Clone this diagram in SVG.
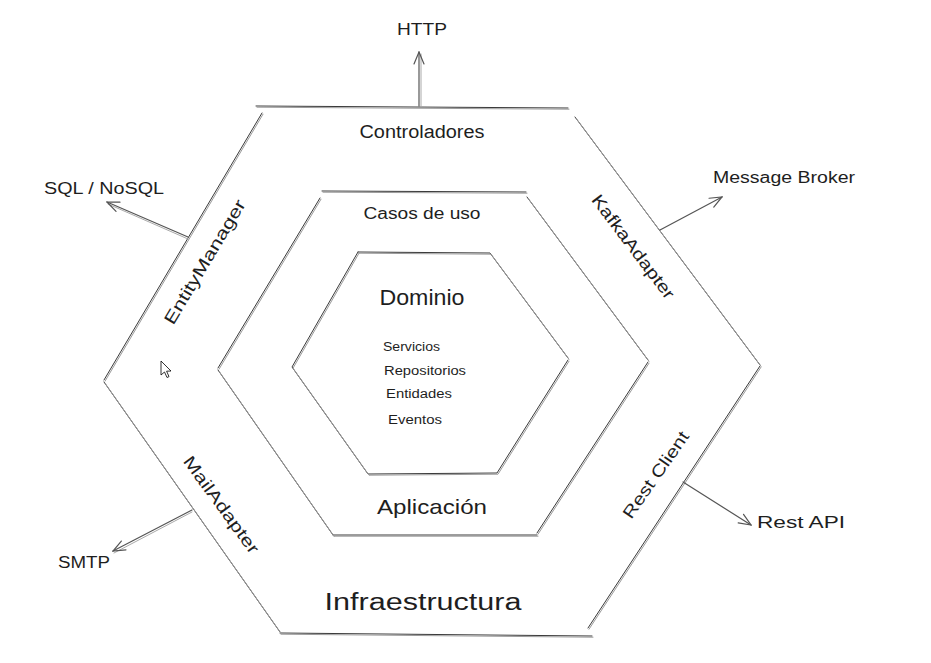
<svg xmlns="http://www.w3.org/2000/svg" width="931" height="663" viewBox="0 0 931 663">
<defs>
<style>
.e1{fill:none;stroke:#3a3a3a;stroke-width:1;stroke-linecap:round}
.e2{fill:none;stroke:#9a9a9a;stroke-width:1;stroke-linecap:round}
.t{font-family:"Liberation Sans",Arial,sans-serif;fill:#1e1e1e;text-anchor:middle;dominant-baseline:central}
.a1{fill:none;stroke:#555;stroke-width:1.2;stroke-linecap:round}
.a2{fill:none;stroke:#aaa;stroke-width:1;stroke-linecap:round}
</style>
<marker id="ah" viewBox="0 0 14 12" refX="13" refY="6" markerWidth="14" markerHeight="12" markerUnits="userSpaceOnUse" orient="auto">
<path d="M1,1 L13,6 L1,11" fill="none" stroke="#555" stroke-width="1.2" stroke-linecap="round"/>
</marker>
</defs>
<rect width="931" height="663" fill="#ffffff"/>

<g id="infraestructura">
<path class="e1" d="M256,106 L568,108 M575,117 L760,365 M760,366 L588,628 M280,633 L592,636 M104,382 L280,632 M104,380 L262,113"/>
<path class="e2" transform="translate(1,1.2)" d="M256,106 L568,108 M575,117 L760,365 M760,366 L588,628 M280,633 L592,636 M104,382 L280,632 M104,380 L262,113"/>
<text class="t" x="422" y="132" font-size="18" textLength="125" lengthAdjust="spacingAndGlyphs">Controladores</text>
<text class="t" x="423" y="602" font-size="23" textLength="197" lengthAdjust="spacingAndGlyphs">Infraestructura</text>
<text class="t" font-size="17" transform="translate(205,262) rotate(-59)" textLength="142" lengthAdjust="spacingAndGlyphs">EntityManager</text>
<text class="t" font-size="17" transform="translate(633,247) rotate(53)" textLength="126" lengthAdjust="spacingAndGlyphs">KafkaAdapter</text>
<text class="t" font-size="17" transform="translate(221,505) rotate(54)" textLength="116" lengthAdjust="spacingAndGlyphs">MailAdapter</text>
<text class="t" font-size="17" transform="translate(656,475) rotate(-55)" textLength="102" lengthAdjust="spacingAndGlyphs">Rest Client</text>
</g>

<g id="aplicacion">
<path class="e1" d="M322,191 L526,192 M527,197 L648,360 M648,362 L537,533 M333,535 L537,535 M218,370 L333,535 M218,368 L320,198"/>
<path class="e2" transform="translate(1,1.2)" d="M322,191 L526,192 M527,197 L648,360 M648,362 L537,533 M333,535 L537,535 M218,370 L333,535 M218,368 L320,198"/>
<text class="t" x="422" y="213" font-size="16" textLength="117" lengthAdjust="spacingAndGlyphs">Casos de uso</text>
<text class="t" x="432" y="506" font-size="21" textLength="110" lengthAdjust="spacingAndGlyphs">Aplicación</text>
</g>

<g id="dominio">
<path class="e1" d="M358,252 L490,253 L568,358 M568,360 L497,473 L368,474 L292,367 L358,252"/>
<path class="e2" transform="translate(1,1.2)" d="M358,252 L490,253 L568,358 M568,360 L497,473 L368,474 L292,367 L358,252"/>
<text class="t" x="422" y="297" font-size="22" textLength="85" lengthAdjust="spacingAndGlyphs">Dominio</text>
<text class="t" x="383" y="347" font-size="12" style="text-anchor:start" textLength="57" lengthAdjust="spacingAndGlyphs">Servicios</text>
<text class="t" x="384" y="371" font-size="12" style="text-anchor:start" textLength="82" lengthAdjust="spacingAndGlyphs">Repositorios</text>
<text class="t" x="386" y="394" font-size="12" style="text-anchor:start" textLength="66" lengthAdjust="spacingAndGlyphs">Entidades</text>
<text class="t" x="388" y="420" font-size="12" style="text-anchor:start" textLength="54" lengthAdjust="spacingAndGlyphs">Eventos</text>
</g>

<g id="externos">
<text class="t" x="422" y="29" font-size="16" textLength="50" lengthAdjust="spacingAndGlyphs">HTTP</text>
<text class="t" x="104" y="188" font-size="16" textLength="120" lengthAdjust="spacingAndGlyphs">SQL / NoSQL</text>
<text class="t" x="784" y="177" font-size="16" textLength="142" lengthAdjust="spacingAndGlyphs">Message Broker</text>
<text class="t" x="84" y="562" font-size="16" textLength="52" lengthAdjust="spacingAndGlyphs">SMTP</text>
<text class="t" x="801" y="522" font-size="16" textLength="88" lengthAdjust="spacingAndGlyphs">Rest API</text>
</g>

<g id="connectors">
<path class="a2" d="M421,106 L421,54"/>
<path class="a1" d="M419,106 L419,52" marker-end="url(#ah)"/>
<path class="a2" d="M188,239 L108,204"/>
<path class="a1" d="M188,237 L107,202" marker-end="url(#ah)"/>
<path class="a1" d="M660,230 L722,197" marker-end="url(#ah)"/>
<path class="a2" d="M192,512 L114,553"/>
<path class="a1" d="M192,510 L113,551" marker-end="url(#ah)"/>
<path class="a1" d="M683,482 L751,525" marker-end="url(#ah)"/>
</g>

<g id="cursor">
<path d="M161,361 L161,375 L164.5,372 L167,377.5 L169,376.6 L166.6,371.2 L171,371 Z" fill="#ffffff" stroke="#000" stroke-width="0.8" stroke-linejoin="round"/>
</g>
</svg>
